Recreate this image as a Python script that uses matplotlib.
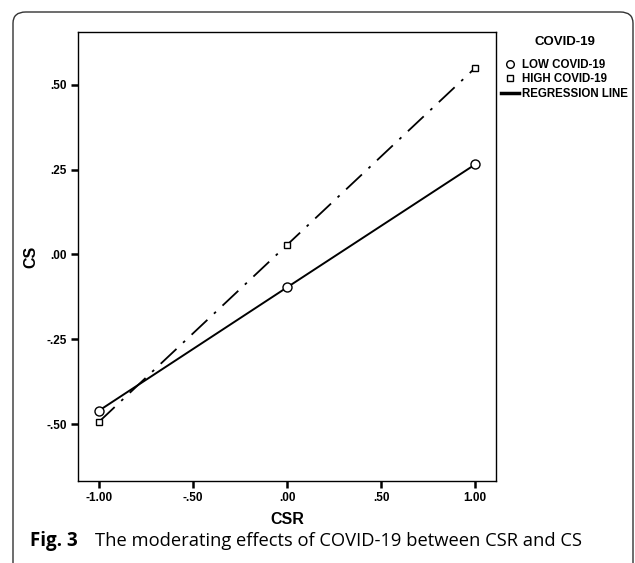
import matplotlib

matplotlib.use("Agg")
import matplotlib.pyplot as plt
from matplotlib.lines import Line2D
from matplotlib.patches import FancyBboxPatch

plt.rcParams["font.family"] = ["Liberation Sans", "DejaVu Sans"]

# data
csr = [-1.0, 0.0, 1.0]
cs_low = [-0.460, -0.097, 0.265]
cs_high = [-0.493, 0.028, 0.549]

x_ticks = [-1.0, -0.5, 0.0, 0.5, 1.0]
x_labels = ["-1.00", "-.50", ".00", ".50", "1.00"]
y_ticks = [-0.5, -0.25, 0.0, 0.25, 0.5]
y_labels = ["-.50", "-.25", ".00", ".25", ".50"]

legend_title = "COVID-19"
legend_labels = ["LOW COVID-19", "HIGH COVID-19", "REGRESSION LINE"]
caption_bold = "Fig. 3"
caption_text = "The moderating effects of COVID-19 between CSR and CS"

W, H = 635, 563
fig = plt.figure(figsize=(W / 100, H / 100), dpi=100)

# rounded frame around the figure panel
frame = FancyBboxPatch(
    (13 / W, -0.2), (633 - 13) / W, 1.2 - 12 / H,
    boxstyle="round,pad=0,rounding_size=0.02",
    transform=fig.transFigure, fill=False, lw=1.0, ec="#333333",
    clip_on=False,
)
fig.patches.append(frame)

ax = fig.add_axes([78 / W, 1 - 481 / H, (496 - 78) / W, (481 - 32) / H])

ax.plot(csr, cs_low, color="black", lw=1.4, marker="o", ms=6.5,
        mfc="white", mec="black", mew=1.0)
ax.plot(csr, cs_high, color="black", lw=1.3, dashes=(12, 5, 1.5, 5),
        marker="s", ms=5, mfc="white", mec="black", mew=1.0)

ax.set_xlim(-1.111, 1.111)
ax.set_ylim(-0.667, 0.655)
ax.set_xticks(x_ticks)
ax.set_xticklabels(x_labels)
ax.set_yticks(y_ticks)
ax.set_yticklabels(y_labels)
ax.tick_params(direction="out", length=5, width=1.8, labelsize=8.5, pad=3)
for lab in ax.get_xticklabels() + ax.get_yticklabels():
    lab.set_fontweight("bold")
for sp in ax.spines.values():
    sp.set_linewidth(1.0)

ax.set_xlabel("CSR", fontsize=11.5, fontweight="bold", va="center")
ax.set_ylabel("CS", fontsize=11.5, fontweight="bold", va="center")
ax.xaxis.set_label_coords(0.5, -(520 - 481) / 449)
ax.yaxis.set_label_coords(-(78 - 31) / 418, 0.5)

handles = [
    Line2D([], [], ls="none", marker="o", ms=5.5, mfc="white", mec="black", mew=1.0),
    Line2D([], [], ls="none", marker="s", ms=4.5, mfc="white", mec="black", mew=1.0),
    Line2D([], [], color="black", lw=2.5),
]
leg = fig.legend(
    handles, legend_labels, title=legend_title,
    loc="upper left", bbox_to_anchor=(501 / W, 1 - 36 / H),
    frameon=False, fontsize=8.3, handlelength=1.6, handletextpad=0.25,
    labelspacing=0.2, borderpad=0, borderaxespad=0,
    title_fontproperties={"weight": "bold", "size": 9.5},
)
for t in leg.get_texts():
    t.set_fontweight("bold")
leg._legend_box.sep = 8

fig.text(30 / W, 1 - 541 / H, caption_bold, fontsize=13.5, fontweight="bold",
         family=["Open Sans", "DejaVu Sans"], va="center")
fig.text(95 / W, 1 - 541 / H, caption_text, fontsize=13.2,
         family=["Open Sans", "DejaVu Sans"], va="center")

fig.savefig("out.png", dpi=100)
